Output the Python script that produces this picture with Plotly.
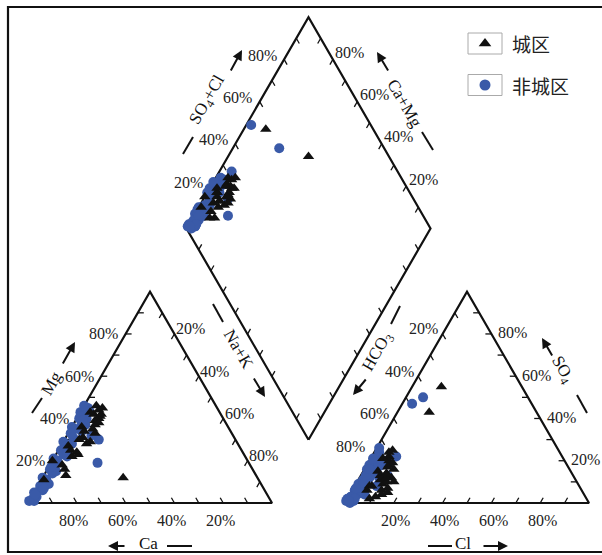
import math
import plotly.graph_objects as go

# ---------------- data (percent) ----------------
# 非城区 (non-urban) samples
nu_mg  = [45, 44, 43, 42, 40, 38, 36, 35, 33, 31, 30, 29, 27, 25, 23, 21, 19, 18, 16, 14, 12, 10, 8, 6, 5, 3, 2, 1, 1, 40, 34, 28, 22, 45, 15, 9, 37, 32, 26, 20, 46, 41, 39, 24, 17, 11, 7, 4]
nu_nak = [1, 3, 0, 2, 1, 3, 0, 2, 1, 3, 14, 0, 2, 1, 3, 0, 19, 2, 1, 3, 0, 2, 1, 3, 0, 2, 1, 0, 2, 4, 5, 4, 5, 2, 4, 4, 5, 10, 3, 2, 0, 1, 3, 4, 1, 2, 3, 1]
nu_so4 = [20, 22, 18, 24, 15, 12, 16, 10, 14, 8, 12, 6, 11, 7, 5, 9, 50, 4, 6, 3, 5, 2, 3, 1, 2, 1, 0, 1, 47, 26, 20, 13, 17, 8, 12, 4, 22, 18, 13, 19, 21, 16, 9, 5, 3, 7, 2, 1]
nu_cl  = [2, 3, 1, 2, 3, 4, 1, 2, 5, 3, 8, 1, 2, 4, 2, 1, 7, 3, 2, 1, 4, 2, 1, 3, 0, 1, 2, 0, 4, 1, 6, 11, 5, 9, 3, 6, 10, 6, 2, 4, 1, 2, 3, 5, 2, 1, 3, 1]
nu_ca   = [100 - a - b for a, b in zip(nu_mg, nu_nak)]
nu_hco3 = [100 - a - b for a, b in zip(nu_so4, nu_cl)]

# 城区 (urban) samples
u_mg  = [46, 44, 42, 41, 39, 37, 35, 33, 31, 28, 25, 24, 22, 18, 13, 20, 11, 12, 40, 36, 43, 30, 38, 45, 34, 27, 16, 29, 42, 23]
u_nak = [5, 7, 6, 9, 8, 9, 9, 11, 7, 10, 5, 8, 7, 5, 9, 0, 1, 33, 9, 4, 4, 6, 10, 8, 6, 3, 7, 11, 9, 9]
u_so4 = [22, 24, 18, 20, 16, 14, 12, 10, 9, 7, 11, 6, 5, 4, 3, 8, 2, 55, 43, 15, 13, 8, 19, 25, 17, 10, 6, 12, 21, 14]
u_cl  = [7, 6, 9, 8, 12, 10, 13, 15, 11, 14, 9, 12, 15, 13, 11, 7, 9, 12, 13, 6, 8, 6, 10, 7, 9, 12, 6, 11, 5, 10]
u_ca   = [100 - a - b for a, b in zip(u_mg, u_nak)]
u_hco3 = [100 - a - b for a, b in zip(u_so4, u_cl)]

tick_labels = ["20%", "40%", "60%", "80%"]
tick_values = [20, 40, 60, 80]

# ---------------- geometry ----------------
S = 244.0
R3 = math.sqrt(3) / 2
H = S * R3
LB = (28.0, 503.0)      # base-left of cation triangle
RB = (345.0, 503.0)     # base-left of anion triangle
gap = RB[0] - (LB[0] + S)
DB = ((LB[0] + S + RB[0]) / 2, LB[1] - gap / 2 * math.sqrt(3))   # diamond bottom


def cat_xy(ca, mg, nak):
    t = ca + mg + nak
    mg, nak = mg / t, nak / t
    return LB[0] + S * (nak + mg / 2), LB[1] - H * mg


def an_xy(hco3, so4, cl):
    t = hco3 + so4 + cl
    so4, cl = so4 / t, cl / t
    return RB[0] + S * (cl + so4 / 2), RB[1] - H * so4


def dia_xy(cm, sc):
    return DB[0] + S / 2 * (sc - cm), DB[1] - H * (sc + cm)


def project(ca, mg, nak, hco3, so4, cl):
    xs, ys = [], []
    for a, b, c in zip(ca, mg, nak):
        x, y = cat_xy(a, b, c); xs.append(x); ys.append(y)
    for d, e, f in zip(hco3, so4, cl):
        x, y = an_xy(d, e, f); xs.append(x); ys.append(y)
    for a, b, c, d, e, f in zip(ca, mg, nak, hco3, so4, cl):
        cm = (a + b) / (a + b + c)
        sc = (e + f) / (d + e + f)
        x, y = dia_xy(cm, sc); xs.append(x); ys.append(y)
    return xs, ys


def line_trace(xs, ys, color="#111", width=2.0):
    return go.Scatter(x=xs, y=ys, mode="lines", line=dict(color=color, width=width),
                      hoverinfo="skip", showlegend=False)


fig = go.Figure()

# frame
fig.add_trace(line_trace([610, 8, 8, 610], [7, 7, 552, 552], "#111", 2.2))

# outlines
A_L = (LB[0] + S / 2, LB[1] - H)
BR_L = (LB[0] + S, LB[1])
A_R = (RB[0] + S / 2, RB[1] - H)
BR_R = (RB[0] + S, RB[1])
D_L = dia_xy(1, 0)
D_T = dia_xy(1, 1)
D_R = dia_xy(0, 1)

ox, oy = [], []
for poly in [[LB, BR_L, A_L, LB], [RB, BR_R, A_R, RB], [DB, D_L, D_T, D_R, DB]]:
    for p in poly:
        ox.append(p[0]); oy.append(p[1])
    ox.append(None); oy.append(None)
fig.add_trace(line_trace(ox, oy, "#111", 2.2))

# ticks
TL = 6.0
tx, ty = [], []


def add_ticks(p0, p1, d):
    for k in range(1, 10):
        f = k / 10
        x = p0[0] + f * (p1[0] - p0[0]); y = p0[1] + f * (p1[1] - p0[1])
        tx.extend([x, x + TL * d[0], None]); ty.extend([y, y + TL * d[1], None])


add_ticks(LB, BR_L, (-0.5, -R3))
add_ticks(LB, A_L, (1, 0))
add_ticks(A_L, BR_L, (-0.5, R3))
add_ticks(RB, BR_R, (0.5, -R3))
add_ticks(A_R, RB, (0.5, R3))
add_ticks(BR_R, A_R, (-1, 0))
add_ticks(D_L, D_T, (0.5, R3))
add_ticks(D_R, D_T, (-0.5, R3))
add_ticks(D_L, DB, (0.5, -R3))
add_ticks(D_R, DB, (-0.5, -R3))
fig.add_trace(line_trace(tx, ty, "#111", 1.3))

# data points
ux, uy = project(u_ca, u_mg, u_nak, u_hco3, u_so4, u_cl)
nx, ny = project(nu_ca, nu_mg, nu_nak, nu_hco3, nu_so4, nu_cl)
fig.add_trace(go.Scatter(x=nx, y=ny, mode="markers", name="非城区",
                         marker=dict(symbol="circle", size=10, color="#3a5aa8"), showlegend=False))
fig.add_trace(go.Scatter(x=ux, y=uy, mode="markers", name="城区",
                         marker=dict(symbol="triangle-up", size=10, color="#111111"), showlegend=False))

NUMF = dict(family="Liberation Serif, Times New Roman, serif", size=16, color="#222")
ann = []


def lab(x, y, t, angle=0, font=NUMF):
    ann.append(dict(x=x, y=y, text=t, showarrow=False, textangle=angle, font=font,
                    xanchor="center", yanchor="middle", xref="x", yref="y"))


for v, t in zip(tick_values, tick_labels):
    f = v / 100
    # cation triangle
    x, y = cat_xy(v, 0, 100 - v); lab(x - 3, y + 17, t)           # Ca bottom
    x, y = cat_xy(100 - v, v, 0); lab(x - 22, y, t)               # Mg left
    x, y = cat_xy(0, 100 - v, v); lab(x + 16, y - 5, t)           # Na+K right
    # anion triangle
    x, y = an_xy(100 - v, 0, v); lab(x + 2, y + 17, t)            # Cl bottom
    x, y = an_xy(v, 100 - v, 0)
    lab(x - 19, y - (14 if v == 80 else 5), t)                    # HCO3 left
    x, y = an_xy(0, v, 100 - v); lab(x + 21, y - 1, t)            # SO4 right
    # diamond
    x, y = dia_xy(1, f); lab(x - 22, y - 4, t)                    # SO4+Cl
    x, y = dia_xy(f, 1); lab(x + 17, y - 7, t)                    # Ca+Mg

TITF = dict(family="Liberation Serif, Times New Roman, serif", size=17, color="#111")

# axis titles (text, dash, arrow)
titles = [
    ("Mg", (51, 383), -60, ((32, 413), (42, 398)), ((62, 365), (75, 342))),
    ("Na+K", (239, 349), 60, ((213, 304), (223, 322)), ((253, 377), (265, 397))),
    ("SO<sub>4</sub>+Cl", (208, 100), -60, ((183, 154), (193, 137)), ((230, 72), (242, 50))),
    ("Ca+Mg", (405, 103), 60, ((422, 132), (433, 150)), ((389, 72), (377, 52))),
    ("HCO<sub>3</sub>", (378, 352), -60, ((400, 306), (391, 324)), ((367, 378), (353, 395))),
    ("SO<sub>4</sub>", (562, 370), 60, ((577, 395), (587, 413)), ((553, 357), (542, 338))),
    ("Ca", (148, 543), 0, ((167, 546), (192, 546)), ((126, 546), (108, 546))),
    ("Cl", (463, 543), 0, ((428, 546), (452, 546)), ((482, 546), (508, 546))),
]
dx_, dy_ = [], []
for t, pos, ang, dash, arr in titles:
    lab(pos[0], pos[1], t, ang, TITF)
    dx_.extend([dash[0][0], dash[1][0], None]); dy_.extend([dash[0][1], dash[1][1], None])
    ann.append(dict(x=arr[1][0], y=arr[1][1], ax=arr[0][0], ay=arr[0][1], xref="x", yref="y",
                    axref="x", ayref="y", text="", showarrow=True, arrowhead=2, arrowsize=1,
                    arrowwidth=2, arrowcolor="#111"))
fig.add_trace(line_trace(dx_, dy_, "#111", 2))

# legend
LEGF = dict(family="Noto Sans CJK SC", size=19, color="#222")
legend_items = [("城区", "triangle-up", "#111111", 43.5), ("非城区", "circle", "#3a5aa8", 85)]
for name, sym, col, yy in legend_items:
    fig.add_trace(line_trace([468, 502, 502, 468, 468],
                             [yy - 10.5, yy - 10.5, yy + 10.5, yy + 10.5, yy - 10.5], "#aaa", 1))
    fig.add_trace(go.Scatter(x=[485], y=[yy], mode="markers", hoverinfo="skip", showlegend=False,
                             marker=dict(symbol=sym, size=11, color=col)))
    ann.append(dict(x=510, y=yy, text=name, showarrow=False, xanchor="left", yanchor="middle",
                    font=LEGF, xref="x", yref="y"))

fig.update_layout(
    width=602, height=555, margin=dict(l=0, r=0, t=0, b=0),
    paper_bgcolor="white", plot_bgcolor="white",
    xaxis=dict(range=[0, 602], visible=False, fixedrange=True),
    yaxis=dict(range=[555, 0], visible=False, fixedrange=True),
    annotations=ann, showlegend=False, hovermode=False,
)
fig.write_html("out.html", config={"displayModeBar": False},
               post_script="document.body.style.margin='0';")
